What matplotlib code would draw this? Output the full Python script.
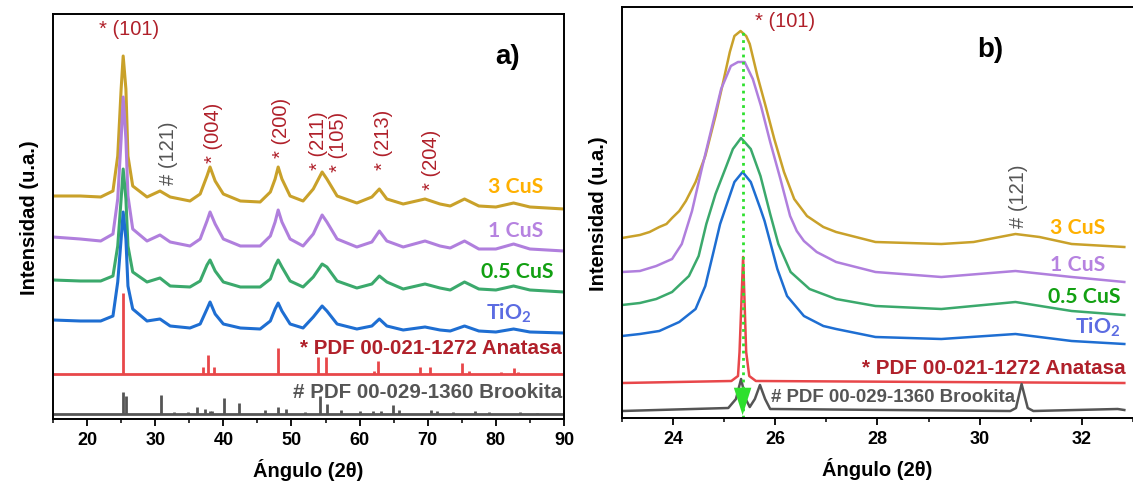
import matplotlib
matplotlib.use("Agg")
import matplotlib.pyplot as plt

plt.rcParams['font.family'] = ['Liberation Sans', 'DejaVu Sans']
plt.rcParams['mathtext.fontset'] = 'custom'
plt.rcParams['mathtext.rm'] = 'Lato:bold'
plt.rcParams['mathtext.it'] = 'Lato:bold'
plt.rcParams['mathtext.bf'] = 'Lato:bold'

# ---------------- panel a) full scan 15-90 ----------------
theta_a = [15, 19, 22, 23.8, 24.5, 25.0, 25.3, 25.7, 26.0, 26.7,
           28.8, 30.7, 32.2, 35.1, 36.6, 37.6, 38.05, 38.8, 40, 42.5,
           45.4, 46.9, 47.6, 48.05, 48.6, 49.8, 51.7, 53.2, 54.5, 55.2,
           56.7, 59.6, 61.8, 62.9, 64.0, 66.4, 69.6, 71.8, 73.3, 75.4,
           77.5, 80, 82.6, 85, 90]
a_3cus = [13, 13, 12, 18, 53, 120, 153, 120, 53, 23,
          12, 18, 12, 8, 15, 33, 42, 28, 15, 8,
          7, 17, 30, 42, 30, 13, 8, 20, 37, 30,
          13, 6, 12, 20, 10, 5, 10, 5, 3, 10,
          3, 2, 6, 2, 0]
a_1cus = [14, 12, 10, 17, 52, 112, 154, 112, 55, 22,
          10, 16, 9, 5, 12, 30, 39, 27, 12, 5,
          5, 15, 29, 41, 29, 12, 5, 17, 36, 29,
          12, 4, 9, 20, 10, 4, 10, 5, 3, 10,
          2, 2, 7, 2, 0]
a_05cus = [12, 11, 11, 16, 46, 93, 123, 93, 46, 20,
           10, 14, 6, 5, 11, 27, 32, 21, 10, 5,
           5, 13, 26, 32, 25, 11, 5, 15, 28, 25,
           11, 4, 8, 16, 10, 3, 8, 4, 2, 10,
           3, 2, 6, 2, 0]
a_tio2 = [13, 12, 12, 17, 51, 94, 121, 94, 47, 24,
          12, 14, 7, 5, 9, 24, 31, 19, 9, 5,
          4, 12, 24, 30, 22, 9, 5, 16, 27, 22,
          9, 4, 7, 14, 7, 3, 6, 3, 2, 7,
          2, 1, 4, 1, 0]

anatase_pos = [25.3, 37.0, 37.8, 38.6, 48.05, 53.9, 55.1, 62.1, 62.7, 68.8,
               70.3, 75.0, 76.0, 80.7, 82.7, 83.2]
anatase_int = [81, 7, 19, 7, 26, 17, 17, 3, 13, 7, 7, 11, 3, 2, 6, 2]
brookite_pos = [25.3, 25.7, 30.8, 32.8, 34.8, 36.2, 37.3, 38.0, 38.4, 40.1,
                42.3, 46.1, 48.0, 49.2, 52.0, 54.2, 55.2, 57.2, 60.0, 62.0,
                63.1, 64.9, 65.8, 70.5, 71.4, 73.7, 76.9, 79.0, 83.6, 86.0]
brookite_int = [22, 18, 19, 2, 2, 7, 5, 3, 3, 16,
                11, 4, 7, 5, 2, 18, 10, 4, 3, 3,
                3, 9, 4, 4, 3, 2, 3, 2, 2, 1]

# hkl labels: 2theta, height of the label foot, text
hkl_a_x = [31.9, 38.5, 48.6, 53.9, 56.85, 63.5, 70.5]
hkl_a_y = [235, 257, 262, 250, 248, 250, 230]
hkl_a_txt = ['# (121)', '* (004)', '* (200)', '* (211)', '* (105)', '* (213)', '* (204)']

# ---------------- panel b) zoom 23-33 ----------------
b_3cus_x = [23.0, 23.35, 23.54, 23.73, 23.87, 23.98, 24.12, 24.25, 24.44, 24.63,
            24.83, 24.98, 25.11, 25.2, 25.32, 25.43, 25.5, 25.65, 25.81, 25.98,
            26.17, 26.37, 26.62, 26.94, 27.19, 27.96, 29.25, 29.88, 30.7, 31.17,
            31.8, 32.83]
b_3cus = [11, 14, 17, 22, 25, 31, 38, 48, 67, 93,
          133, 167, 197, 213, 218, 213, 205, 173, 143, 110,
          77, 50, 33, 22, 17, 7, 5, 7, 15, 12,
          5, 2]
b_1cus_x = [23.0, 23.35, 23.67, 23.98, 24.17, 24.37, 24.56, 24.75, 24.94, 25.13,
            25.27, 25.4, 25.56, 25.72, 25.9, 26.1, 26.29, 26.42, 26.56, 26.81,
            27.19, 27.96, 29.25, 30.7, 31.8, 32.83]
b_1cus = [12, 13, 18, 25, 40, 73, 115, 155, 195, 218,
          222, 222, 205, 178, 142, 105, 68, 53, 43, 32,
          22, 12, 7, 13, 7, 2]
b_05cus_x = [23.0, 23.35, 23.67, 23.98, 24.31, 24.5, 24.65, 24.83, 25.02, 25.17,
             25.33, 25.52, 25.71, 25.9, 26.06, 26.3, 26.67, 27.19, 27.96, 29.25,
             30.7, 31.8, 32.83]
b_05cus = [12, 14, 18, 25, 41, 61, 93, 123, 148, 168,
           179, 168, 141, 103, 73, 45, 28, 18, 11, 8,
           15, 6, 2]
b_tio2_x = [23.0, 23.35, 23.73, 24.12, 24.44, 24.63, 24.79, 24.92, 25.02, 25.2,
            25.36, 25.52, 25.71, 25.79, 25.9, 26.04, 26.23, 26.56, 26.94, 27.19,
            27.96, 29.25, 30.7, 31.8, 32.83]
b_tio2 = [10, 12, 15, 24, 37, 60, 94, 122, 137, 164,
          174, 164, 137, 125, 104, 77, 50, 30, 20, 17,
          9, 7, 12, 5, 2]
b_anatase_x = [23.0, 25.14, 25.27, 25.30, 25.37, 25.43, 25.49, 25.62, 32.83]
b_anatase = [1, 3, 8, 32, 127, 32, 8, 3, 1]
b_brookite_x = [23.0, 25.08, 25.23, 25.33, 25.42, 25.5, 25.6, 25.7, 25.8, 25.9,
                30.6, 30.71, 30.82, 30.94, 31.05, 32.7, 32.83]
b_brookite = [1, 4, 13, 33, 13, 5, 13, 27, 13, 3, 1, 4, 28, 4, 1, 3, 2]
peak_101 = 25.36

samples = ['3 CuS', '1 CuS', '0.5 CuS', 'TiO$_2$']
line_colors = ['#C9A12A', '#B07FDD', '#3BA96C', '#1E6ED2']
label_colors = ['#FFB000', '#B682E0', '#12A012', '#5C6CE2']
red_ref = '#E8474A'
gray_ref = '#555555'
red_txt = '#B0202A'

offsets_a = [210, 168, 127, 86]
offsets_b = [169, 134, 101, 72]

fig = plt.figure(figsize=(11.33, 4.85), dpi=100)
ax1 = fig.add_axes([53 / 1133, 1 - 420 / 485, 511 / 1133, 405 / 485])
ax2 = fig.add_axes([622 / 1133, 1 - 419 / 485, 511 / 1133, 411 / 485])

# panel a
for ys, off, c in zip([a_3cus, a_1cus, a_05cus, a_tio2], offsets_a, line_colors):
    ax1.plot(theta_a, [v + off for v in ys], color=c, lw=2.2)
ax1.axhline(45, color=red_ref, lw=2)
ax1.vlines(anatase_pos, 45, [45 + h for h in anatase_int], color=red_ref, lw=2)
ax1.axhline(5, color=gray_ref, lw=2)
ax1.vlines(brookite_pos, 5, [5 + h for h in brookite_int], color=gray_ref, lw=2)

ax1.set_xlim(15, 90)
ax1.set_ylim(0, 405)
ax1.text(26.2, 390, '* (101)', color=red_txt, fontsize=14.5, ha='center', va='center')
for x, y, t in zip(hkl_a_x, hkl_a_y, hkl_a_txt):
    col = gray_ref if t.startswith('#') else red_txt
    ax1.text(x, y, t, rotation=90, color=col, fontsize=14.5, ha='center', va='bottom')
ax1.text(81.7, 363, 'a)', fontsize=20, fontweight='bold', ha='center', va='center')
for name, x, y, c in zip(samples, [87.0, 87.0, 88.4, 85.3], [233, 189, 148, 107],
                         label_colors):
    ax1.text(x, y, name, color=c, fontsize=15.3, fontweight='bold', family='Lato',
             ha='right', va='center')
ax1.text(89.7, 71, '* PDF 00-021-1272 Anatasa', color=red_txt, fontsize=14.8,
         fontweight='bold', ha='right', va='center')
ax1.text(89.7, 28, '# PDF 00-029-1360 Brookita', color=gray_ref, fontsize=14.8,
         fontweight='bold', ha='right', va='center')

# panel b
for xs, ys, off, c in zip([b_3cus_x, b_1cus_x, b_05cus_x, b_tio2_x],
                          [b_3cus, b_1cus, b_05cus, b_tio2], offsets_b, line_colors):
    ax2.plot(xs, [v + off for v in ys], color=c, lw=1.8)
ax2.plot(b_anatase_x, [v + 34 for v in b_anatase], color=red_ref, lw=1.8)
ax2.plot(b_brookite_x, [v + 6 for v in b_brookite], color=gray_ref, lw=1.8)
top = max(b_3cus) + offsets_b[0]
ax2.vlines(peak_101, 0, top, color='#2EE02E', lw=2, linestyles=(0, (1, 1.6)))
ax2.annotate('', xy=(peak_101, 0), xytext=(peak_101, 22),
             arrowprops=dict(arrowstyle='-|>,head_width=0.35,head_length=1.1',
                             color='#2EE02E', lw=0, mutation_scale=18))

ax2.set_xlim(23, 32.83)
ax2.set_ylim(0, 411)
ax2.text(25.6, 397, '* (101)', color=red_txt, fontsize=14.5, ha='left', va='center')
ax2.text(30.2, 369, 'b)', fontsize=20, fontweight='bold', ha='center', va='center')
ax2.text(30.75, 191, '# (121)', rotation=90, color=gray_ref, fontsize=14.5,
         ha='center', va='bottom')
for name, x, y, c in zip(samples, [31.38, 31.37, 31.33, 31.87], [191, 154, 122, 92],
                         label_colors):
    ax2.text(x, y, name, color=c, fontsize=15.3, fontweight='bold', family='Lato',
             ha='left', va='center')
ax2.text(27.7, 51, '* PDF 00-021-1272 Anatasa', color=red_txt, fontsize=14.9,
         fontweight='bold', ha='left', va='center')
ax2.text(25.92, 21, '# PDF 00-029-1360 Brookita', color=gray_ref, fontsize=13.4,
         fontweight='bold', ha='left', va='center')

for ax, ticks, minor in [(ax1, range(20, 91, 10), range(15, 91, 10)),
                         (ax2, range(24, 33, 2), range(23, 34, 2))]:
    ax.set_xticks(list(ticks))
    ax.set_xticks(list(minor), minor=True)
    ax.set_yticks([])
    ax.tick_params(axis='x', which='major', direction='out', length=5, width=1.3,
                   labelsize=13)
    ax.tick_params(axis='x', which='minor', direction='out', length=3, width=1.1)
    for lab in ax.get_xticklabels():
        lab.set_fontweight('bold')
    for s in ax.spines.values():
        s.set_linewidth(1.4)
    ax.set_xlabel('Ángulo (2θ)', fontsize=14.5, fontweight='bold', labelpad=7)
    ax.set_ylabel('Intensidad (u.a.)', fontsize=14.5, fontweight='bold', labelpad=10)
ax2.spines['right'].set_visible(False)

fig.savefig('out.png', dpi=100)
